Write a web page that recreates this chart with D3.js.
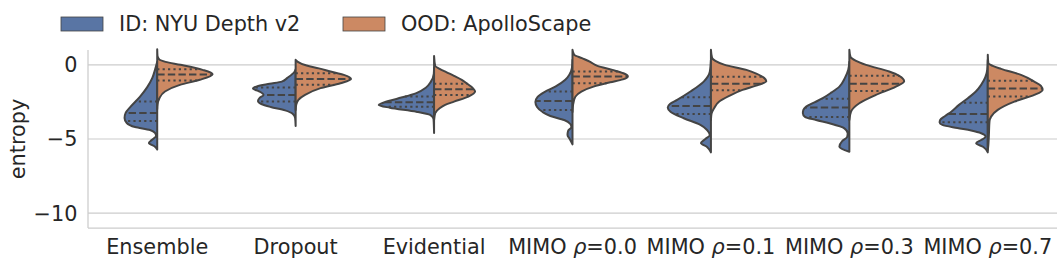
<!DOCTYPE html>
<html><head><meta charset="utf-8">
<script src="https://cdn.jsdelivr.net/npm/d3@7"></script>
<style>body{margin:0;background:#fff;} svg{display:block;font-family:"DejaVu Sans",sans-serif;}</style>
</head><body><svg id="chart" width="1064" height="269"></svg>
<script>
const categories = ["Ensemble","Dropout","Evidential","MIMO ρ=0.0","MIMO ρ=0.1","MIMO ρ=0.3","MIMO ρ=0.7"];
const seriesNames = ["ID: NYU Depth v2","OOD: ApolloScape"];
const yTicks = [0,-5,-10];

// density profiles: [entropy value, relative density]
const ensembleID = [[0.2,0],[-0.34,0.04],[-0.9,0.09],[-1.5,0.18],[-2.14,0.31],[-2.82,0.48],[-3.24,0.57],[-3.58,0.59],[-3.92,0.55],[-4.19,0.4],[-4.39,0.13],[-4.59,0.04],[-4.8,0.02],[-5.07,0.1],[-5.27,0.15],[-5.52,0.04],[-5.71,0]];
const ensembleOOD = [[1.05,0],[0.6,0.005],[0.35,0.04],[0.2,0.15],[0.0,0.42],[-0.34,0.82],[-0.63,1.0],[-1.01,0.77],[-1.35,0.41],[-1.8,0.14],[-2.25,0.04],[-2.7,0.005],[-3.0,0]];
const dropoutID = [[-0.3,0],[-0.47,0.02],[-0.88,0.15],[-1.13,0.25],[-1.28,0.47],[-1.45,0.7],[-1.6,0.77],[-1.79,0.66],[-2.03,0.58],[-2.23,0.65],[-2.43,0.68],[-2.64,0.62],[-2.84,0.45],[-3.07,0.19],[-3.31,0.05],[-3.58,0.01],[-4.12,0]];
const dropoutOOD = [[0.34,0],[0.2,0.04],[-0.05,0.2],[-0.24,0.42],[-0.45,0.63],[-0.68,0.87],[-0.95,1.0],[-1.24,0.81],[-1.57,0.45],[-2.03,0.17],[-2.36,0.05],[-2.7,0.01],[-3.04,0]];
const evidentialID = [[-0.2,0],[-0.6,0.005],[-1.15,0.06],[-1.55,0.15],[-1.91,0.32],[-2.3,0.68],[-2.57,0.93],[-2.7,1.0],[-2.89,0.8],[-3.16,0.32],[-3.38,0.07],[-3.65,0.01],[-4.6,0]];
const evidentialOOD = [[0.6,0],[-0.07,0.02],[-0.27,0.1],[-0.49,0.22],[-0.74,0.36],[-1.01,0.5],[-1.28,0.6],[-1.57,0.7],[-1.8,0.74],[-2.14,0.62],[-2.48,0.36],[-2.7,0.2],[-2.93,0.1],[-3.26,0.02],[-3.72,0]];
const mimo00ID = [[0.34,0],[-0.2,0.01],[-0.68,0.06],[-1.01,0.13],[-1.47,0.31],[-1.82,0.5],[-2.16,0.63],[-2.5,0.67],[-2.84,0.64],[-3.18,0.54],[-3.45,0.4],[-3.72,0.15],[-3.99,0.04],[-4.19,0.02],[-4.46,0.08],[-4.73,0.09],[-5.0,0.05],[-5.36,0]];
const mimo00OOD = [[1.01,0],[0.68,0.03],[0.45,0.17],[0.2,0.32],[-0.07,0.45],[-0.34,0.72],[-0.57,0.92],[-0.78,1.0],[-0.98,0.91],[-1.18,0.68],[-1.47,0.38],[-1.8,0.16],[-2.16,0.05],[-2.7,0.01],[-3.18,0]];
const mimo01ID = [[0.34,0],[-0.47,0.02],[-1.13,0.13],[-1.8,0.37],[-2.36,0.61],[-2.64,0.74],[-2.87,0.78],[-3.16,0.73],[-3.6,0.49],[-4.05,0.19],[-4.39,0.07],[-4.73,0.02],[-5.0,0.1],[-5.27,0.18],[-5.54,0.07],[-5.9,0]];
const mimo01OOD = [[1.01,0],[0.47,0.02],[0.27,0.08],[0.0,0.25],[-0.34,0.64],[-0.61,0.83],[-0.88,0.96],[-1.11,1.0],[-1.35,0.86],[-1.69,0.57],[-2.09,0.33],[-2.5,0.14],[-2.91,0.06],[-3.31,0.01],[-3.72,0]];
const mimo03ID = [[0.2,0],[-0.34,0.02],[-0.88,0.08],[-1.47,0.18],[-1.86,0.32],[-2.25,0.48],[-2.53,0.63],[-2.82,0.78],[-3.04,0.83],[-3.26,0.84],[-3.51,0.8],[-3.72,0.6],[-3.94,0.36],[-4.28,0.09],[-4.61,0.03],[-4.86,0.04],[-5.14,0.13],[-5.52,0.18],[-5.86,0]];
const mimo03OOD = [[1.01,0],[0.54,0.02],[0.27,0.12],[0.0,0.3],[-0.45,0.72],[-0.74,0.9],[-1.11,0.99],[-1.47,0.84],[-2.03,0.48],[-2.59,0.18],[-3.16,0.03],[-3.72,0]];
const mimo07ID = [[0.34,0],[-0.34,0.01],[-1.35,0.12],[-1.82,0.22],[-2.25,0.36],[-2.7,0.52],[-3.16,0.66],[-3.45,0.77],[-3.72,0.86],[-3.89,0.87],[-4.05,0.82],[-4.26,0.55],[-4.43,0.3],[-4.61,0.12],[-4.84,0.04],[-5.07,0.12],[-5.29,0.21],[-5.54,0.08],[-5.9,0]];
const mimo07OOD = [[0.68,0],[0.11,0.01],[-0.07,0.09],[-0.27,0.24],[-0.68,0.6],[-1.13,0.84],[-1.42,0.96],[-1.69,0.99],[-2.03,0.84],[-2.48,0.48],[-3.04,0.18],[-3.49,0.06],[-3.85,0.03],[-4.73,0.02],[-5.41,0.01],[-5.74,0]];

// quartiles: [upper quartile, median, lower quartile]
const quartilesID = [[-2.48,-3.24,-3.78],[-1.53,-2.03,-2.48],[-2.14,-2.52,-2.82],[-1.8,-2.43,-3.04],[-2.18,-2.77,-3.31],[-2.28,-2.88,-3.51],[-2.55,-3.31,-3.87]];
const quartilesOOD = [[-0.3,-0.66,-1.05],[-0.56,-0.95,-1.35],[-1.28,-1.64,-2.03],[-0.45,-0.79,-1.24],[-0.81,-1.27,-1.72],[-0.74,-1.28,-1.76],[-1.08,-1.6,-2.14]];

const profilesID = [ensembleID, dropoutID, evidentialID, mimo00ID, mimo01ID, mimo03ID, mimo07ID];
const profilesOOD = [ensembleOOD, dropoutOOD, evidentialOOD, mimo00OOD, mimo01OOD, mimo03OOD, mimo07OOD];

(function() {
const colors = ["#5975a4", "#cc8963"];
const lineColor = "#444444";
const textColor = "#262626";
const gridColor = "#cccccc";

const svg = d3.select("#chart");
const pLeft = 88, pRight = 1057, pTop = 50, pBottom = 228;
const x = d3.scaleBand().domain(categories).range([pLeft, pRight]).padding(0);
const y = d3.scaleLinear().domain([-11, 1]).range([pBottom, pTop]);
const halfW = x.bandwidth() * 0.4;
const wScale = d3.scaleLinear().domain([0, 1]).range([0, halfW]);

svg.append("g").selectAll("line").data(yTicks).join("line")
  .attr("x1", pLeft).attr("x2", pRight)
  .attr("y1", d => y(d)).attr("y2", d => y(d))
  .attr("stroke", gridColor).attr("stroke-width", 1.1);

function densAt(prof, v) {
  for (let i = 0; i < prof.length - 1; i++) {
    const a = prof[i], b = prof[i + 1];
    if (v <= a[0] && v >= b[0]) {
      const t = (a[0] - v) / (a[0] - b[0]);
      return a[1] + t * (b[1] - a[1]);
    }
  }
  return 0;
}

const lw = 2.0;
const g = svg.append("g");
categories.forEach((cat, i) => {
  const cx = x(cat) + x.bandwidth() / 2;
  [[profilesID[i], quartilesID[i], -1, colors[0]], [profilesOOD[i], quartilesOOD[i], 1, colors[1]]].forEach(([prof, q, dir, col]) => {
    const area = d3.area()
      .y(d => y(d[0]))
      .x0(cx)
      .x1(d => cx + dir * wScale(d[1]))
      .curve(d3.curveMonotoneY);
    g.append("path").attr("d", area(prof))
      .attr("fill", col).attr("stroke", lineColor).attr("stroke-width", lw)
      .attr("stroke-linejoin", "round");
    q.forEach((qv, k) => {
      const dw = wScale(densAt(prof, qv));
      g.append("line")
        .attr("x1", cx).attr("x2", cx + dir * dw)
        .attr("y1", y(qv)).attr("y2", y(qv))
        .attr("stroke", lineColor).attr("stroke-width", lw)
        .attr("stroke-dasharray", k === 1 ? `${3.7*lw},${1.6*lw}` : `${1.1*lw},${1.6*lw}`);
    });
  });
});

svg.append("line").attr("x1", pLeft).attr("x2", pLeft).attr("y1", pTop).attr("y2", pBottom)
  .attr("stroke", gridColor).attr("stroke-width", 1.25);
svg.append("line").attr("x1", pLeft).attr("x2", pRight).attr("y1", pBottom).attr("y2", pBottom)
  .attr("stroke", gridColor).attr("stroke-width", 1.25);

const fs = 20.8;
svg.append("g").selectAll("text").data(yTicks).join("text")
  .attr("x", 77.5).attr("y", d => y(d)).attr("dy", "0.36em")
  .attr("text-anchor", "end").attr("font-size", fs).attr("fill", textColor)
  .text(d => d < 0 ? "\u2212" + Math.abs(d) : d);

const xl = svg.append("g").selectAll("text").data(categories).join("text")
  .attr("x", d => x(d) + x.bandwidth() / 2).attr("y", 253.5)
  .attr("text-anchor", "middle").attr("font-size", fs).attr("fill", textColor);
xl.each(function(d) {
  const parts = d.split("ρ");
  const t = d3.select(this);
  if (parts.length === 1) { t.text(d); return; }
  t.append("tspan").text(parts[0]);
  t.append("tspan").attr("font-style", "italic").text("ρ");
  t.append("tspan").text(parts[1]);
});

svg.append("text").attr("transform", `translate(25,${(pTop + pBottom) / 2}) rotate(-90)`)
  .attr("text-anchor", "middle").attr("font-size", fs).attr("fill", textColor).text("entropy");

const legX = [61, 343];
seriesNames.forEach((s, i) => {
  svg.append("rect").attr("x", legX[i]).attr("y", 17).attr("width", 42).attr("height", 14)
    .attr("fill", colors[i]).attr("stroke", lineColor).attr("stroke-width", 0.8);
  svg.append("text").attr("x", legX[i] + 58).attr("y", 31).attr("font-size", fs)
    .attr("fill", textColor).text(s);
});
})();
</script></body></html>
